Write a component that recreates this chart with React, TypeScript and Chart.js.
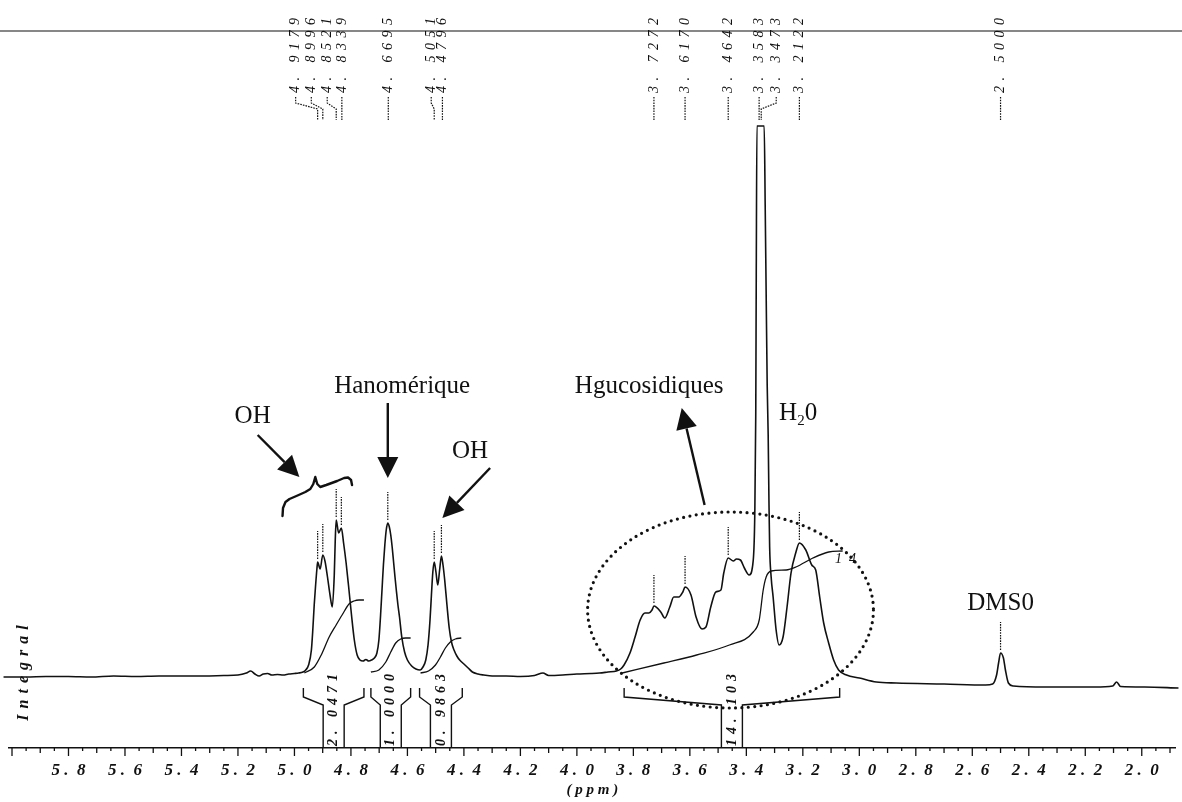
import React, { useEffect, useRef } from "react";
import { Chart, registerables } from "chart.js";
Chart.register(...registerables);

// ---------------- DATA ----------------
// 1H NMR spectrum (chemical shift in ppm, relative intensity)
const specPpm = [6.03, 5.95, 5.88, 5.80, 5.72, 5.64, 5.56, 5.48, 5.40, 5.32,
  5.25, 5.20, 5.17, 5.155, 5.14, 5.125, 5.11, 5.095, 5.08, 5.06,
  5.04, 5.02, 5.00, 4.985, 4.97, 4.96, 4.95, 4.94, 4.935, 4.93,
  4.925, 4.9205, 4.9179, 4.909, 4.8996, 4.892, 4.883, 4.874, 4.866, 4.859,
  4.8555, 4.8521, 4.8435, 4.8339, 4.826, 4.817, 4.808, 4.798, 4.788, 4.778,
  4.768, 4.757, 4.747, 4.737, 4.727, 4.717, 4.708, 4.701, 4.695, 4.690,
  4.685, 4.680, 4.675, 4.6695, 4.664, 4.659, 4.654, 4.649, 4.644, 4.639,
  4.634, 4.628, 4.620, 4.610, 4.600, 4.585, 4.570, 4.555, 4.545, 4.535,
  4.527, 4.520, 4.515, 4.510, 4.5051, 4.499, 4.4925, 4.486, 4.4796, 4.474,
  4.468, 4.460, 4.452, 4.444, 4.435, 4.425, 4.415, 4.400, 4.385, 4.370,
  4.350, 4.330, 4.300, 4.250, 4.200, 4.150, 4.120, 4.100, 4.050, 4.000,
  3.950, 3.920, 3.890, 3.860, 3.845, 3.833, 3.812, 3.794, 3.776, 3.759,
  3.745, 3.734, 3.7272, 3.703, 3.689, 3.671, 3.657, 3.639, 3.625, 3.6170,
  3.596, 3.578, 3.557, 3.543, 3.526, 3.508, 3.490, 3.480, 3.4642, 3.446,
  3.435, 3.421, 3.407, 3.390, 3.3755, 3.3702, 3.3667, 3.3649, 3.3625, 3.3583,
  3.3473, 3.3368, 3.3333, 3.3298, 3.3262, 3.3227, 3.3200, 3.3175, 3.3122, 3.3052,
  3.2946, 3.2841, 3.2700, 3.2559, 3.2418, 3.2243, 3.2122, 3.1895, 3.1684, 3.1544,
  3.1403, 3.1262, 3.1086, 3.0910, 3.0734, 3.0453, 2.9996, 2.9398, 2.8692, 2.70,
  2.5527, 2.528, 2.514, 2.507, 2.500, 2.4898, 2.4827, 2.4722, 2.4546, 2.34,
  2.166, 2.103, 2.089, 2.075, 1.99, 1.87];
const specInt = [-2, -2, -1.5, -1.5, -2, -1, -1.5, -1, -1, -1,
  -0.5, 0, 2, 4, 1, -1, 1, 1.5, 0, 0.5,
  0, 1, 1.5, 2, 3, 5, 10, 25, 45, 70,
  90, 106, 113, 106, 120, 114, 98, 80, 68, 100,
  135, 155, 142, 147, 132, 112, 88, 60, 35, 20,
  15, 14, 15.5, 14, 15, 17, 22, 35, 60, 85,
  110, 130, 145, 152, 148, 140, 128, 113, 98, 84,
  71, 58, 38, 23, 15, 9, 6, 5, 8, 15,
  30, 55, 80, 103, 113, 103, 90, 105, 119, 110,
  95, 70, 47, 33, 25, 19, 15, 11, 7, 3,
  1, 0, -1, -1, -1.5, -0.5, 2, -0.5, 0, 1,
  1.5, 2, 3, 4, 6, 10, 22, 38, 55, 62,
  62, 65, 69, 63, 57, 68, 78, 78, 83, 88,
  80, 58, 46, 48, 68, 83, 85, 102, 117, 114,
  116, 115, 107, 100, 115, 160, 260, 400, 549, 549,
  549, 549, 470, 380, 290, 240, 175, 128, 98, 78,
  45, 30, 38, 68, 102, 123, 132, 125, 110, 105,
  78, 52, 32, 15, 5, 0, -3, -7, -8, -9,
  -10, -9, 0, 12, 22, 17, 5, -8, -11, -12,
  -12, -11, -7, -11.5, -12, -13];

// picked peaks
const peakPpm = [4.9179, 4.8996, 4.8521, 4.8339, 4.6695, 4.5051, 4.4796,
  3.7272, 3.6170, 3.4642, 3.3583, 3.3473, 3.2122, 2.5000];
const peakInt = [113, 120, 155, 147, 152, 113, 119, 69, 88, 117, 549, 549, 132, 22];

// integral regions
const intStart = [4.9684, 4.7293, 4.5570, 3.8327];
const intEnd = [4.7539, 4.5886, 4.4058, 3.0696];
const intValues = [2.0471, 1.0000, 0.9863, 14.103];

// integral curves
const int1Ppm = [4.9649, 4.9297, 4.9051, 4.8770, 4.8524, 4.8313, 4.8067, 4.7891, 4.7715, 4.7539];
const int1Val = [2, 8, 20, 38, 50, 60, 71, 74, 75, 75];
const int2Ppm = [4.7293, 4.7011, 4.6765, 4.6590, 4.6414, 4.6238, 4.6062, 4.5886];
const int2Val = [3, 5, 13, 23, 32, 36, 37, 37];
const int3Ppm = [4.5535, 4.5253, 4.5007, 4.4831, 4.4656, 4.4480, 4.4304, 4.4093];
const int3Val = [2, 4, 10, 18, 27, 33, 36, 37];
const int4Ppm = [3.8397, 3.6920, 3.5760, 3.4599, 3.3755, 3.3544, 3.3403, 3.3298, 3.3122, 3.2594, 3.2243, 3.1645, 3.1083, 3.0590];
const int4Val = [2, 12, 20, 30, 43, 55, 85, 98, 104, 105, 108, 117, 123, 124];

// axis
const X_MIN = 1.88;
const X_MAX = 6.01;
const TICK_STEP = 0.05;
const Y_MIN = -73;
const Y_MAX = 675;

// annotation texts (anchor in data coords)
const noteText = ["OH", "Hanomérique", "OH", "Hgucosidiques", "DMS0"];
const notePpm = [5.148, 4.8594, 4.378, 3.481, 2.5];
const noteInt = [252, 282, 217, 282, 65];
const noteAlign = ["center", "left", "center", "right", "center"];

// arrows: tail -> tip
const arrowFromPpm = [5.1302, 4.6695, 4.3073, 3.5478];
const arrowFromInt = [240, 272, 207, 170];
const arrowToPpm = [4.9825, 4.6695, 4.4761, 3.6287];
const arrowToInt = [198, 197, 157, 267];

// curly brace over OH group
const bracePpm = [5.0422, 5.0405, 5.0317, 5.0176, 4.9930, 4.9614, 4.9438, 4.9332, 4.9262,
  4.9192, 4.9086, 4.8875, 4.8488, 4.8242, 4.8102, 4.7996, 4.7961];
const braceInt = [159, 167, 173, 176, 179, 183, 186, 191, 198,
  191, 188, 190, 194, 197, 197.5, 195, 190];

// dotted ellipse around glucosidic protons
const ellCenter = [3.456, 65];
const ellHalf = [0.506, 98];

// ---------------- LAYOUT / STYLE ----------------
const W = 1182;
const H = 802;
const LEFT_PAD = 8;
const AXIS_H = 54;
const SERIF = "'Liberation Serif', 'Times New Roman', serif";
const labelShift = [-22, -11.5, -9, 0.5, 0.5, -3, 1, 0, 0, 0, 1, 15, 0, 0];
const TOP_LINE_Y = 31;
const LABEL_BOTTOM = 93;

const isMult = (v: number, s: number) => Math.abs(v / s - Math.round(v / s)) < 1e-6;

function fmtTick(v: number) {
  const s = v.toFixed(1);
  return s[0] + " .\u2002" + s[2];
}
function fmtSpaced(s: string) {
  return s.replace(".", ". ");
}

const nmrPlugin = {
  id: "nmrAnnot",
  beforeDraw(chart: any) {
    const ctx = chart.ctx;
    ctx.save();
    ctx.fillStyle = "#fff";
    ctx.fillRect(0, 0, chart.width, chart.height);
    ctx.restore();
  },
  afterDraw(chart: any) {
    const ctx = chart.ctx;
    const xs = chart.scales.x;
    const ys = chart.scales.y;
    const X = (v: number) => xs.getPixelForValue(v);
    const Y = (v: number) => ys.getPixelForValue(v);
    const area = chart.chartArea;
    ctx.save();
    ctx.strokeStyle = "#111";
    ctx.fillStyle = "#111";

    // axis tick marks
    ctx.lineWidth = 1.3;
    for (const t of xs.ticks) {
      const v = t.value;
      const px = X(v);
      if (px < area.left - 1 || px > area.right + 1) continue;
      const len = isMult(v, 0.2) ? 8 : isMult(v, 0.1) ? 5 : 3;
      ctx.beginPath();
      ctx.moveTo(px, area.bottom);
      ctx.lineTo(px, area.bottom + len);
      ctx.stroke();
    }

    // top header line
    ctx.lineWidth = 1.2;
    ctx.beginPath();
    ctx.moveTo(0, TOP_LINE_Y);
    ctx.lineTo(chart.width, TOP_LINE_Y);
    ctx.stroke();

    // peak labels + connectors
    ctx.font = "italic 14px " + SERIF;
    (ctx as any).letterSpacing = "5.5px";
    ctx.textAlign = "left";
    ctx.textBaseline = "middle";
    peakPpm.forEach((p, i) => {
      const px = X(p);
      const lx = px + labelShift[i];
      ctx.save();
      ctx.translate(lx, LABEL_BOTTOM);
      ctx.rotate(-Math.PI / 2);
      ctx.fillText(fmtSpaced(p.toFixed(4)), 0, 0);
      ctx.restore();
      ctx.save();
      ctx.setLineDash([1.6, 1.1]);
      ctx.lineWidth = 1.2;
      ctx.beginPath();
      if (Math.abs(labelShift[i]) < 1.5) {
        ctx.moveTo(lx, 97);
        ctx.lineTo(lx, 120);
      } else {
        ctx.moveTo(lx, 97);
        ctx.lineTo(lx, 103);
        ctx.lineTo(px, 109);
        ctx.lineTo(px, 120);
      }
      ctx.stroke();
      ctx.restore();
    });
    (ctx as any).letterSpacing = "0px";

    // peak markers above the peaks
    ctx.save();
    ctx.setLineDash([1.6, 1.1]);
    ctx.lineWidth = 1.2;
    peakPpm.forEach((p, i) => {
      if (peakInt[i] > 400) return;
      const px = X(p);
      ctx.beginPath();
      ctx.moveTo(px, Y(peakInt[i] + 3));
      ctx.lineTo(px, Y(peakInt[i] + 31));
      ctx.stroke();
    });
    ctx.restore();

    // integral brackets + values
    ctx.lineWidth = 1.4;
    intStart.forEach((s, i) => {
      const xl = X(s);
      const xr = X(intEnd[i]);
      const xc = (xl + xr) / 2;
      const yTop = area.bottom - 60;
      const yCorner = area.bottom - 51;
      const yStem = area.bottom - 43;
      ctx.beginPath();
      ctx.moveTo(xl, yTop);
      ctx.lineTo(xl, yCorner);
      ctx.lineTo(xc - 10.5, yStem);
      ctx.lineTo(xc - 10.5, area.bottom);
      ctx.moveTo(xr, yTop);
      ctx.lineTo(xr, yCorner);
      ctx.lineTo(xc + 10.5, yStem);
      ctx.lineTo(xc + 10.5, area.bottom);
      ctx.stroke();
      const v = intValues[i];
      const txt = fmtSpaced(v >= 10 ? v.toFixed(3) : v.toFixed(4));
      ctx.save();
      ctx.font = "bold italic 14px " + SERIF;
      (ctx as any).letterSpacing = "5px";
      ctx.textAlign = "left";
      ctx.textBaseline = "middle";
      ctx.translate(xc, area.bottom - 2);
      ctx.rotate(-Math.PI / 2);
      ctx.fillText(txt, 0, 0);
      ctx.restore();
    });

    // "Integral" axis caption
    ctx.save();
    ctx.font = "bold italic 16px " + SERIF;
    (ctx as any).letterSpacing = "6px";
    ctx.textAlign = "center";
    ctx.textBaseline = "middle";
    ctx.translate(24, 670);
    ctx.rotate(-Math.PI / 2);
    ctx.fillText("Integral", 0, 0);
    ctx.restore();

    // small "1 4" at end of big integral
    ctx.save();
    ctx.font = "italic 14px " + SERIF;
    ctx.textAlign = "center";
    ctx.textBaseline = "middle";
    ctx.fillText("1  4", X(3.0485), Y(116));
    ctx.restore();

    // annotation texts
    ctx.font = "25px " + SERIF;
    ctx.textBaseline = "alphabetic";
    noteText.forEach((t, i) => {
      ctx.textAlign = noteAlign[i] as CanvasTextAlign;
      ctx.fillText(t, X(notePpm[i]), Y(noteInt[i]));
    });
    // H2O with subscript
    {
      const hx = X(3.2841);
      const hy = Y(255);
      ctx.textAlign = "left";
      ctx.font = "25px " + SERIF;
      ctx.fillText("H", hx, hy);
      const w1 = ctx.measureText("H").width;
      ctx.font = "15px " + SERIF;
      ctx.fillText("2", hx + w1, hy + 5);
      const w2 = ctx.measureText("2").width;
      ctx.font = "25px " + SERIF;
      ctx.fillText("0", hx + w1 + w2, hy);
    }

    // arrows
    arrowFromPpm.forEach((fp, i) => {
      const fx = X(fp), fy = Y(arrowFromInt[i]);
      const tx = X(arrowToPpm[i]), ty = Y(arrowToInt[i]);
      const ang = Math.atan2(ty - fy, tx - fx);
      const hl = 21, hw = 10.5;
      const bx = tx - hl * Math.cos(ang), by = ty - hl * Math.sin(ang);
      ctx.lineWidth = 2.4;
      ctx.beginPath();
      ctx.moveTo(fx, fy);
      ctx.lineTo(bx, by);
      ctx.stroke();
      ctx.beginPath();
      ctx.moveTo(tx, ty);
      ctx.lineTo(bx - hw * Math.sin(ang), by + hw * Math.cos(ang));
      ctx.lineTo(bx + hw * Math.sin(ang), by - hw * Math.cos(ang));
      ctx.closePath();
      ctx.fill();
    });

    // curly brace
    ctx.lineWidth = 2.4;
    ctx.lineJoin = "round";
    ctx.lineCap = "round";
    ctx.beginPath();
    bracePpm.forEach((p, i) => {
      const px = X(p), py = Y(braceInt[i]);
      if (i === 0) ctx.moveTo(px, py);
      else ctx.lineTo(px, py);
    });
    ctx.stroke();

    // dotted ellipse
    const cx = X(ellCenter[0]);
    const cy = Y(ellCenter[1]);
    const rx = Math.abs(X(ellCenter[0] - ellHalf[0]) - cx);
    const ry = Math.abs(Y(ellCenter[1] + ellHalf[1]) - cy);
    ctx.save();
    ctx.setLineDash([0, 6.4]);
    ctx.lineCap = "round";
    ctx.lineWidth = 3.2;
    ctx.beginPath();
    ctx.ellipse(cx, cy, rx, ry, 0, 0, Math.PI * 2);
    ctx.stroke();
    ctx.restore();

    ctx.restore();
  },
};

function pts(xv: number[], yv: number[]) {
  return xv.map((x, i) => ({ x, y: yv[i] }));
}

export default function App() {
  const ref = useRef<HTMLCanvasElement | null>(null);
  useEffect(() => {
    document.body.style.margin = "0";
    const canvas = ref.current;
    if (!canvas) return;
    const lineDs = (data: any, width: number) => ({
      data,
      borderColor: "#111",
      borderWidth: width,
      pointRadius: 0,
      fill: false,
      cubicInterpolationMode: "monotone",
      clip: { left: 10, top: 5, right: 5, bottom: 5 },
    });
    const chart = new Chart(canvas, {
      type: "line",
      data: {
        datasets: [
          lineDs(pts(specPpm, specInt), 1.6),
          lineDs(pts(int1Ppm, int1Val), 1.3),
          lineDs(pts(int2Ppm, int2Val), 1.3),
          lineDs(pts(int3Ppm, int3Val), 1.3),
          lineDs(pts(int4Ppm, int4Val), 1.3),
        ] as any,
      },
      options: {
        animation: false,
        responsive: false,
        devicePixelRatio: 1,
        layout: { padding: { left: LEFT_PAD, right: 0, top: 0, bottom: 0 } },
        plugins: { legend: { display: false }, tooltip: { enabled: false } },
        events: [],
        scales: {
          x: {
            type: "linear",
            reverse: true,
            min: X_MIN,
            max: X_MAX,
            grid: { display: false, drawTicks: false },
            border: { display: true, color: "#111", width: 1.6 },
            ticks: {
              stepSize: TICK_STEP,
              autoSkip: false,
              includeBounds: false,
              maxRotation: 0,
              minRotation: 0,
              padding: 12,
              color: "#111",
              font: { family: SERIF, size: 17, style: "italic", weight: "bold" },
              callback: (value: any) => {
                const v = Number(value);
                if (isMult(v, 0.2) && v < 5.9) return fmtTick(v);
                return "";
              },
            },
            title: {
              display: true,
              text: "( p p m )",
              color: "#111",
              font: { family: SERIF, size: 15, style: "italic", weight: "bold" },
              padding: { top: 0, bottom: 3 },
            },
            afterFit: (scale: any) => {
              scale.height = AXIS_H;
            },
          } as any,
          y: {
            display: false,
            min: Y_MIN,
            max: Y_MAX,
          },
        },
      },
      plugins: [nmrPlugin],
    });
    return () => chart.destroy();
  }, []);
  return (
    <div style={{ width: W, height: H }}>
      <canvas ref={ref} width={W} height={H} style={{ display: "block", width: W, height: H }} />
    </div>
  );
}
